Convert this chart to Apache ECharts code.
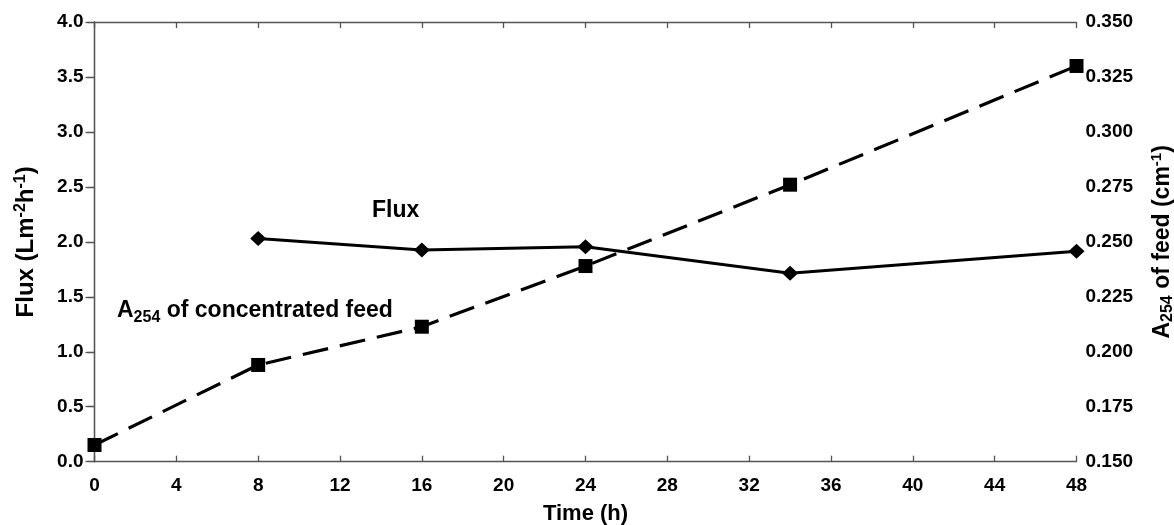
<!DOCTYPE html>
<html>
<head>
<meta charset="utf-8">
<script src="https://cdn.jsdelivr.net/npm/echarts@6/dist/echarts.min.js"></script>
<style>html,body{margin:0;padding:0;background:#fff}#c{width:1174px;height:525px}</style>
</head>
<body>
<div id="c"></div>
<script>
const timeFlux = [8, 16, 24, 34, 48];
const fluxValues = [2.03, 1.925, 1.955, 1.715, 1.915];
const timeA254 = [0, 8, 16, 24, 34, 48];
const a254Values = [0.1576, 0.194, 0.2114, 0.239, 0.276, 0.330];
const xTicks = [0, 4, 8, 12, 16, 20, 24, 28, 32, 36, 40, 44, 48];

const FONT = 'Liberation Sans, Arial, sans-serif';
const axisLineStyle = { color: '#555', width: 1.3 };
const chart = echarts.init(document.getElementById('c'));
chart.setOption({
  animation: false,
  grid: { left: 94.5, right: 97.5, top: 22, bottom: 63.3, containLabel: false, outerBoundsMode: 'none' },
  xAxis: [{
    type: 'value', min: 0, max: 48, interval: 4, position: 'bottom',
    name: 'Time (h)', nameLocation: 'middle', nameGap: 41,
    nameTextStyle: { fontFamily: FONT, fontWeight: 'bold', fontSize: 22, color: '#000' },
    axisLine: { show: true, lineStyle: axisLineStyle },
    axisTick: { show: true, inside: true, length: 6, lineStyle: axisLineStyle },
    axisLabel: { fontFamily: FONT, fontWeight: 'bold', fontSize: 19, color: '#000', margin: 15 },
    splitLine: { show: false }
  }, {
    type: 'value', min: 0, max: 48, interval: 4, position: 'top',
    axisLine: { show: true, lineStyle: axisLineStyle },
    axisTick: { show: true, inside: true, length: 6, lineStyle: axisLineStyle },
    axisLabel: { show: false }, splitLine: { show: false }
  }],
  yAxis: [{
    type: 'value', min: 0, max: 4, interval: 0.5, position: 'left',
    name: 'Flux (Lm{sup|-2}h{sup|-1})', nameLocation: 'middle', nameGap: 55, nameRotate: 90,
    nameTextStyle: { fontFamily: FONT, fontWeight: 'bold', fontSize: 24, color: '#000',
      rich: { sup: { fontFamily: FONT, fontWeight: 'bold', fontSize: 16, color: '#000', verticalAlign: 'top', lineHeight: 27 } } },
    axisLine: { show: true, lineStyle: axisLineStyle },
    axisTick: { show: true, inside: false, length: 9, lineStyle: axisLineStyle },
    axisLabel: { fontFamily: FONT, fontWeight: 'bold', fontSize: 19, color: '#000', margin: 11,
      formatter: v => v.toFixed(1) },
    splitLine: { show: false }
  }, {
    type: 'value', min: 0.15, max: 0.35, interval: 0.025, position: 'right',
    name: 'A{sub|254} of feed (cm{sup|-1})', nameLocation: 'middle', nameGap: 73, nameRotate: 90,
    nameTextStyle: { fontFamily: FONT, fontWeight: 'bold', fontSize: 23, color: '#000',
      rich: { sup: { fontFamily: FONT, fontWeight: 'bold', fontSize: 15, color: '#000', verticalAlign: 'top', lineHeight: 26 },
              sub: { fontFamily: FONT, fontWeight: 'bold', fontSize: 16, color: '#000', verticalAlign: 'bottom', lineHeight: 26 } } },
    axisLine: { show: true, lineStyle: axisLineStyle },
    axisTick: { show: true, inside: true, length: 7, lineStyle: axisLineStyle },
    axisLabel: { fontFamily: FONT, fontWeight: 'bold', fontSize: 19, color: '#000', margin: 9,
      formatter: v => v.toFixed(3) },
    splitLine: { show: false }
  }],
  series: [{
    type: 'line', xAxisIndex: 0, yAxisIndex: 0,
    data: timeFlux.map((t, i) => [t, fluxValues[i]]),
    symbol: 'diamond', symbolSize: [16, 15],
    lineStyle: { color: '#000', width: 3 },
    itemStyle: { color: '#000' }, z: 3
  }, {
    type: 'line', xAxisIndex: 0, yAxisIndex: 1,
    data: timeA254.map((t, i) => [t, a254Values[i]]),
    symbol: 'rect', symbolSize: 14,
    lineStyle: { color: '#000', width: 3.2, type: [26, 12] },
    itemStyle: { color: '#000' }, z: 2
  }],
  graphic: [{
    type: 'text', left: 372, top: 199,
    style: { text: 'Flux', fontFamily: FONT, fontWeight: 'bold', fontSize: 23, fill: '#000' }
  }, {
    type: 'text', left: 117, top: 299,
    style: { text: 'A{sub|254} of concentrated feed', fontFamily: FONT, fontWeight: 'bold', fontSize: 23, fill: '#000',
      rich: { sub: { fontFamily: FONT, fontWeight: 'bold', fontSize: 16, fill: '#000', verticalAlign: 'bottom', lineHeight: 30 } } }
  }]
});
</script>
</body>
</html>
